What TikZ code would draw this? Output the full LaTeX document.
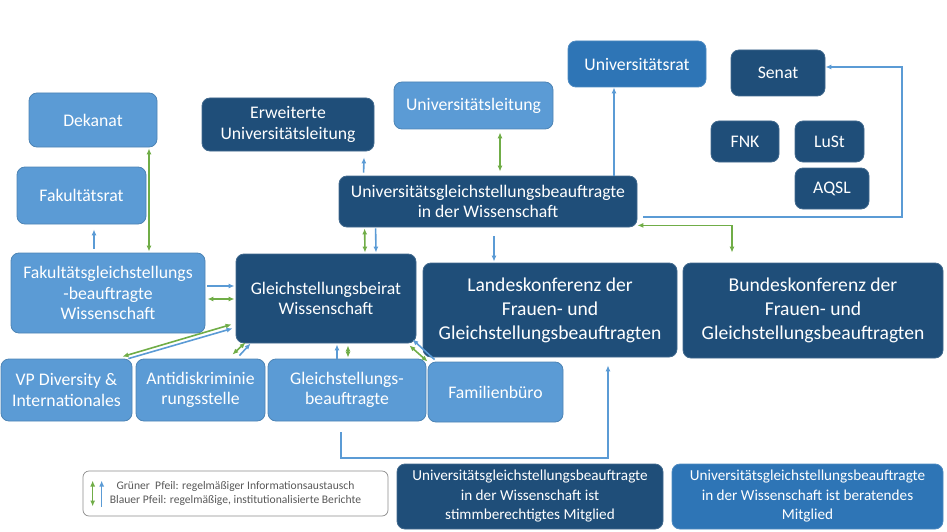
\documentclass[tikz,border=0pt]{standalone}
\usepackage{fontspec}
\setmainfont{Carlito}
\usetikzlibrary{arrows.meta,calc}
\definecolor{dk}{HTML}{1F4E79}
\definecolor{lt}{HTML}{5B9BD5}
\definecolor{md}{HTML}{2E75B6}
\definecolor{ag}{HTML}{70AD47}
\definecolor{ab}{HTML}{5B9BD5}
\definecolor{legtext}{HTML}{595959}
\begin{document}
\begin{tikzpicture}[x=1pt,y=-1pt,
  box/.style={rounded corners=8pt, text=white, align=center, inner sep=0pt, line width=0.8pt, font=\fontsize{17.7}{20.5}\selectfont},
  darkbox/.style={box, fill=dk, draw=dk!85!white},
  lightbox/.style={box, fill=lt, draw=lt!85!black},
  medbox/.style={box, fill=md, draw=md!85!white},
  bigfont/.style={font=\fontsize{19.6}{24}\selectfont},
  smallfont/.style={font=\fontsize{15.2}{19.5}\selectfont},
  sz/.style 2 args={minimum width=#1pt, minimum height=#2pt},
  legendbox/.style={rounded corners=6pt, draw=black!45, line width=0.7pt, fill=white, text=legtext, align=center, inner sep=0pt, font=\fontsize{11.6}{14}\selectfont},
  barrow/.style={draw=ab, line width=1.6pt, -{Latex[length=6pt,width=5pt]}},
  garrow/.style={draw=ag, line width=1.6pt, {Latex[length=6pt,width=5pt]}-{Latex[length=6pt,width=5pt]}},
]
\useasboundingbox (0,0) rectangle (947,532);

% boxes
\node[lightbox, sz={128}{54}] (dek) at (93,120) {Dekanat};
\node[lightbox, sz={129}{57}] (frat) at (81.5,195.5) {Fakultätsrat};
\node[darkbox, sz={172}{53}] (eul) at (288,124.5) {Erweiterte\\Universitätsleitung};
\node[lightbox, sz={159}{47}] (ul) at (473.5,105.5) {Universitätsleitung};
\node[medbox, sz={138}{46}] (urat) at (637,64) {Universitätsrat};
\node[darkbox, sz={94}{46}] (senat) at (778,73) {Senat};
\node[darkbox, sz={68}{41}] (fnk) at (745,141.5) {FNK};
\node[darkbox, sz={69}{41}] (lust) at (829.5,141.5) {LuSt};
\node[darkbox, sz={74}{41}] (aqsl) at (832,188.5) {AQSL};
\node[darkbox, sz={298}{51}] (ugbw) at (488,201.5) {Universitätsgleichstellungsbeauftragte\\in der Wissenschaft};
\node[lightbox, sz={194}{80}] (fgb) at (108,293) {Fakultätsgleichstellungs\\-beauftragte\\Wissenschaft};
\node[darkbox, sz={180}{89}] (gbw) at (326,298.5) {Gleichstellungsbeirat\\Wissenschaft};
\node[darkbox, bigfont, sz={254}{94}] (landes) at (550,310) {Landeskonferenz der\\Frauen- und\\Gleichstellungsbeauftragten};
\node[darkbox, bigfont, sz={260}{95}] (bundes) at (813,310.5) {Bundeskonferenz der\\Frauen- und\\Gleichstellungsbeauftragten};
\node[lightbox, sz={131}{62}] (vp) at (66.5,390) {VP Diversity \&\\Internationales};
\node[lightbox, sz={129}{62}] (anti) at (200.5,390) {Antidiskriminie\\rungsstelle};
\node[lightbox, sz={158}{62}] (gb) at (347,390) {Gleichstellungs-\\beauftragte};
\node[lightbox, sz={135}{60}] (fam) at (495.5,392) {Familienbüro};
\node[darkbox, smallfont, sz={266}{65}] (m1) at (530,496.5) {Universitätsgleichstellungsbeauftragte\\in der Wissenschaft ist\\stimmberechtigtes Mitglied};
\node[medbox, smallfont, sz={271}{65}] (m2) at (807.5,496.5) {Universitätsgleichstellungsbeauftragte\\in der Wissenschaft ist beratendes\\Mitglied};
\node[legendbox, sz={305}{45}] (leg) at (235.5,493.5) {Grüner~~Pfeil: regelmäßiger Informationsaustausch\\Blauer Pfeil: regelmäßige, institutionalisierte Berichte};

% helper coordinates for elbows
\coordinate (cs) at (902,67);
\coordinate (lc) at (608,458);

% connectors
\draw[garrow] ($(dek.south)+(56,1)$) -- ($(fgb.north)+(41,-1)$);
\draw[barrow] ($(fgb.north)+(-14,-4)$) -- ($(frat.south)+(12.5,5)$);
\draw[barrow] ($(ugbw.north west)+(25,-3)$) -- ($(eul.south)+(76,6)$);
\draw[garrow] ($(ul.south)+(26.5,3)$) -- ($(ugbw.north)+(12,-4)$);
\draw[barrow] ($(ugbw.north)+(126,0)$) -- ($(urat.south)+(-23,0)$);
\draw[barrow] ($(ugbw.east)+(6,15.5)$) -| (cs) -- ($(senat.east)+(0,-6)$);
\draw[garrow] ($(ugbw.south east)+(0,-2)$) -| ($(bundes.north)+(-81,-10)$);
\draw[garrow] ($(ugbw.south west)+(26,1)$) -- ($(gbw.north)+(39,-1)$);
\draw[barrow] ($(ugbw.south west)+(37,1)$) -- ($(gbw.north)+(50,-1)$);
\draw[barrow] ($(ugbw.south)+(6,9)$) -- ($(landes.north)+(-56,-1)$);
\draw[barrow] ($(fgb.east)+(2,-7)$) -- ($(gbw.west)+(-1,-12.5)$);
\draw[garrow] ($(fgb.east)+(2,6)$) -- ($(gbw.west)+(-1,0.5)$);
\draw[garrow] ($(vp.north east)+(-10,-2)$) -- ($(gbw.south west)+(-4,-19)$);
\draw[barrow] ($(vp.north east)+(-4,0)$) -- ($(gbw.south west)+(-3,-15)$);
\draw[garrow] ($(anti.north east)+(-33,-4)$) -- ($(gbw.south west)+(10,-1)$);
\draw[barrow] ($(anti.north east)+(-26,-3)$) -- ($(gbw.south west)+(15,0)$);
\draw[barrow] ($(gb.north)+(-10,0)$) -- ($(gbw.south)+(11,1)$);
\draw[garrow] ($(gb.north)+(1,-1)$) -- ($(gbw.south)+(22,2)$);
\draw[garrow] ($(gbw.south east)+(-7,2)$) -- (fam.north west);
\draw[barrow] ($(fam.north west)+(7,-2)$) -- ($(gbw.south east)+(-4,-4)$);
\draw[barrow] ($(gb.south)+(-6,11)$) |- (lc) -- ($(landes.south)+(58,8)$);

% legend arrows
\draw[garrow] ($(leg.west)+(10,-13)$) -- ($(leg.west)+(10,13)$);
\draw[barrow] ($(leg.west)+(19,13)$) -- ($(leg.west)+(19,-13)$);
\end{tikzpicture}
\end{document}
